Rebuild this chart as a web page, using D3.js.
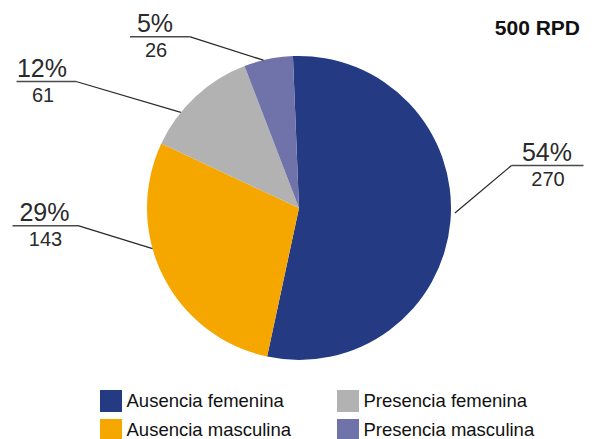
<!DOCTYPE html>
<html>
<head>
<meta charset="utf-8">
<script src="https://cdn.jsdelivr.net/npm/d3@7"></script>
<style>
  html, body { margin: 0; padding: 0; background: #fff; }
  svg { display: block; font-family: "Liberation Sans", Arial, Helvetica, sans-serif; }
</style>
</head>
<body>
<svg id="chart" width="592" height="439"></svg>
<script>
// ---- data ----
const categories = ["Ausencia femenina", "Ausencia masculina", "Presencia femenina", "Presencia masculina"];
const values = [270, 143, 61, 26];
const colors = ["#243b84", "#f5a700", "#b2b2b2", "#6f73aa"];
const title = "500 RPD";

// ---- layout (label placement, not data) ----
const labelLayout = [
  { x1: 511.5, x2: 583.5, y: 165.5, tx: 547, side: "right", at: 0.484, rOff: 4 },
  { x1: 12.5,  x2: 78,    y: 225.7, tx: 44.5, side: "left", at: 0.606, rOff: 0 },
  { x1: 16.5,  x2: 76,    y: 81.5,  tx: 42,  side: "left",  at: 0.317, rOff: 0 },
  { x1: 130,   x2: 189.5, y: 36.7,  tx: 155, side: "left",  at: 0.40,  rOff: 0 }
];

const svg = d3.select("#chart");
const cx = 299, cy = 208, r = 152;
const offset = -0.04;
const total = d3.sum(values);

const pie = d3.pie().sort(null).value(d => d)
  .startAngle(offset).endAngle(2 * Math.PI + offset);
const arcs = pie(values);
const arc = d3.arc().innerRadius(0).outerRadius(r);

const g = svg.append("g").attr("transform", `translate(${cx},${cy})`);
g.selectAll("path").data(arcs).join("path")
  .attr("d", arc)
  .attr("fill", (d, i) => colors[i]);

// labels with leader lines
arcs.forEach((a, i) => {
  const L = labelLayout[i];
  const ang = a.startAngle + (a.endAngle - a.startAngle) * L.at;
  const rr = r + L.rOff;
  const ax = cx + rr * Math.sin(ang);
  const ay = cy - rr * Math.cos(ang);
  const jx = L.side === "right" ? L.x1 : L.x2;
  svg.append("line")
    .attr("x1", L.x1).attr("x2", L.x2).attr("y1", L.y).attr("y2", L.y)
    .attr("stroke", "#4a4a4a").attr("stroke-width", 1.6);
  svg.append("line")
    .attr("x1", jx).attr("y1", L.y).attr("x2", ax).attr("y2", ay)
    .attr("stroke", "#2a2a2a").attr("stroke-width", 1.3);
  svg.append("text")
    .attr("x", L.tx).attr("y", L.y - 5)
    .attr("text-anchor", "middle")
    .attr("font-size", 25).attr("fill", "#2a2a2a")
    .text(Math.round(values[i] / total * 100) + "%");
  svg.append("text")
    .attr("x", L.tx + 1).attr("y", L.y + 20.5)
    .attr("text-anchor", "middle")
    .attr("font-size", 20).attr("fill", "#2a2a2a")
    .text(values[i]);
});

// title
svg.append("text")
  .attr("x", 580).attr("y", 35)
  .attr("text-anchor", "end")
  .attr("font-size", 21).attr("font-weight", "bold").attr("fill", "#111")
  .text(title);

// legend
const lx = d3.scaleOrdinal().domain([0, 1]).range([100, 337]);
const ly = d3.scaleOrdinal().domain([0, 1]).range([390, 419]);
const leg = svg.append("g");
categories.forEach((c, i) => {
  const col = Math.floor(i / 2), row = i % 2;
  const x = lx(col), y = ly(row);
  leg.append("rect").attr("x", x).attr("y", y).attr("width", 22).attr("height", 22)
    .attr("fill", colors[i]);
  leg.append("text").attr("x", x + 26.5).attr("y", y + 17)
    .attr("font-size", 18.5).attr("fill", "#111")
    .text(c);
});
</script>
</body>
</html>
